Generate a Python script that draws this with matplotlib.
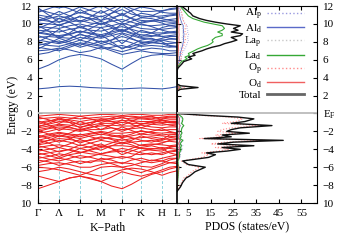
"""
Band structure + projected DOS (Al / La / O) on a shared energy axis.
"""

import matplotlib
matplotlib.use("Agg")
import matplotlib.pyplot as plt

plt.rcParams["font.family"] = ["Liberation Serif", "DejaVu Serif"]
plt.rcParams["mathtext.fontset"] = "custom"
plt.rcParams["mathtext.rm"] = "Liberation Serif"
plt.rcParams["mathtext.it"] = "Liberation Serif:italic"

# ---- k-path ----
K_LABELS = ["Γ", "Λ", "L", "M", "Γ", "K", "H", "L"]
K_TICKS = [0, 21, 42, 63, 84, 103, 124, 139]
K_POINTS = [0, 10.5, 21, 31.5, 42, 52.5, 63, 73.5, 84, 93.5, 103, 113.5, 124, 131.5, 139]

# ---- valence bands (eV), one row per band, sampled at K_POINTS ----
VALENCE = [
    [-8.4, -8.0, -7.6, -7.2, -7.0, -7.3, -7.6, -8.1, -8.4, -7.9, -7.3, -6.8, -6.5, -6.2, -6.0],
    [-7.0, -7.3, -7.6, -7.2, -7.0, -7.2, -7.6, -7.1, -6.5, -6.8, -7.0, -6.7, -6.3, -6.0, -5.9],
    [-6.0, -6.1, -6.3, -6.6, -6.9, -6.5, -6.0, -5.9, -6.0, -6.3, -6.6, -6.2, -5.8, -5.5, -5.4],
    [-5.8, -5.6, -5.5, -5.7, -6.0, -6.0, -5.7, -5.5, -5.5, -5.6, -5.9, -6.0, -5.6, -5.2, -5.0],
    [-5.2, -5.4, -5.8, -5.5, -5.3, -5.5, -5.0, -5.2, -5.6, -5.2, -5.0, -5.3, -5.0, -4.8, -4.6],
    [-5.0, -4.8, -4.5, -4.7, -5.0, -4.8, -4.5, -4.3, -4.2, -4.5, -4.6, -4.4, -4.6, -4.3, -4.2],
    [-4.6, -4.4, -4.2, -4.0, -4.3, -4.5, -4.6, -4.8, -5.0, -4.8, -4.2, -4.0, -3.8, -3.9, -4.0],
    [-4.2, -4.0, -3.8, -4.1, -4.4, -4.1, -3.8, -3.6, -3.6, -3.7, -3.9, -4.1, -4.2, -3.8, -3.6],
    [-3.8, -3.6, -3.5, -3.7, -3.9, -3.7, -3.4, -3.9, -4.3, -3.9, -3.5, -3.4, -3.5, -3.6, -3.5],
    [-3.5, -3.3, -3.0, -3.2, -3.6, -3.3, -3.0, -3.2, -3.4, -3.2, -3.1, -3.0, -3.2, -3.1, -3.2],
    [-3.2, -3.0, -2.8, -2.9, -3.1, -3.0, -2.7, -2.8, -3.0, -2.8, -2.7, -2.6, -2.8, -2.9, -2.8],
    [-3.0, -2.7, -2.4, -2.6, -2.8, -2.5, -2.3, -2.5, -2.7, -2.5, -2.3, -2.4, -2.5, -2.6, -2.5],
    [-2.6, -2.3, -2.1, -2.3, -2.4, -2.2, -2.0, -2.2, -2.2, -2.1, -2.0, -2.1, -2.2, -2.1, -2.2],
    [-2.2, -2.0, -1.7, -1.8, -2.0, -1.8, -1.8, -1.6, -1.8, -1.7, -1.6, -1.8, -1.9, -1.8, -1.8],
    [-2.0, -1.7, -1.5, -1.6, -1.8, -1.5, -1.4, -1.3, -1.4, -1.4, -1.3, -1.5, -1.6, -1.5, -1.5],
    [-1.6, -1.4, -1.2, -1.3, -1.5, -1.3, -1.1, -1.1, -1.0, -1.1, -1.1, -1.2, -1.3, -1.2, -1.2],
    [-1.4, -1.2, -0.9, -1.0, -1.2, -1.0, -0.8, -0.9, -0.8, -0.8, -0.9, -0.9, -1.0, -1.0, -1.0],
    [-1.0, -0.8, -0.7, -0.7, -0.9, -0.7, -0.6, -0.6, -0.5, -0.6, -0.6, -0.7, -0.8, -0.7, -0.7],
    [-0.6, -0.5, -0.4, -0.5, -0.6, -0.5, -0.4, -0.3, -0.3, -0.3, -0.4, -0.4, -0.5, -0.4, -0.4],
    [-0.3, -0.2, -0.1, -0.2, -0.3, -0.2, -0.1, -0.1, 0.0, -0.1, -0.1, -0.2, -0.2, -0.1, -0.1],
    [-1.9, -2.3, -2.6, -2.2, -1.7, -2.0, -2.4, -2.0, -1.5, -1.9, -2.3, -2.0, -1.7, -2.0, -2.2],
    [-0.8, -1.3, -1.9, -1.4, -0.9, -1.3, -1.8, -1.3, -0.7, -1.2, -1.6, -1.2, -0.8, -1.0, -1.1],
    [-2.9, -3.3, -3.8, -3.4, -2.9, -3.3, -3.7, -3.3, -2.8, -3.2, -3.6, -3.5, -3.3, -3.0, -2.9],
    [-4.0, -4.3, -4.8, -4.4, -3.9, -4.2, -4.5, -4.2, -3.9, -4.1, -4.4, -4.6, -4.4, -4.2, -4.1],
    [-5.5, -5.2, -5.0, -5.2, -5.6, -5.3, -5.3, -5.6, -6.0, -5.8, -5.5, -5.2, -5.3, -5.5, -5.6],
    [-1.2, -0.9, -0.5, -0.8, -1.3, -1.0, -0.8, -0.5, -0.2, -0.4, -0.5, -0.6, -0.4, -0.3, -0.3],
    [-3.4, -3.0, -2.5, -2.7, -3.3, -2.9, -2.6, -2.9, -3.3, -3.0, -2.5, -2.8, -3.0, -2.7, -2.6],
    [-4.4, -4.7, -5.0, -4.6, -4.4, -4.0, -3.6, -3.9, -4.6, -4.2, -3.8, -3.6, -3.9, -4.4, -4.6],
    [-0.4, -0.7, -1.1, -0.6, -0.3, -0.6, -1.0, -0.7, -0.4, -0.8, -1.2, -0.9, -0.6, -0.5, -0.5],
    [-1.5, -1.1, -0.6, -1.0, -1.6, -1.2, -0.6, -0.9, -1.3, -0.9, -0.4, -0.3, -0.7, -0.9, -0.9],
    [-2.4, -2.8, -3.2, -2.8, -2.3, -2.6, -2.9, -2.6, -2.4, -2.7, -3.0, -3.2, -2.9, -2.4, -2.3],
    [-3.6, -3.9, -4.3, -4.0, -3.5, -3.8, -4.1, -3.6, -3.2, -3.5, -3.9, -3.9, -4.0, -3.7, -3.7],
    [-4.8, -5.1, -5.3, -5.0, -4.7, -4.9, -5.2, -5.0, -4.8, -5.0, -5.3, -5.5, -5.3, -5.0, -5.0],
    [-6.5, -6.3, -6.0, -6.2, -6.5, -6.8, -7.0, -6.6, -6.3, -6.1, -6.2, -6.5, -6.9, -6.6, -6.4],
    [-1.8, -1.6, -1.3, -1.5, -1.9, -1.6, -1.2, -1.6, -2.0, -1.6, -1.2, -1.0, -1.1, -1.3, -1.4],
    [-2.7, -2.5, -2.2, -2.4, -2.6, -2.3, -2.1, -2.4, -2.6, -2.3, -1.9, -2.2, -2.4, -2.3, -2.3],
]

# ---- conduction bands (eV) ----
CONDUCTION = [
    [2.75, 2.85, 3.0, 3.05, 3.0, 2.9, 2.85, 2.8, 2.75, 2.8, 2.85, 2.8, 2.75, 2.85, 3.0],
    [4.95, 5.4, 6.0, 6.4, 6.6, 6.4, 6.1, 5.5, 4.95, 5.6, 6.2, 6.5, 6.6, 6.5, 6.5],
    [7.0, 7.1, 7.3, 7.1, 6.8, 7.0, 7.4, 7.0, 6.6, 6.8, 7.0, 6.8, 6.7, 6.7, 6.8],
    [7.4, 7.2, 7.0, 7.4, 7.8, 7.5, 7.2, 7.4, 7.6, 7.3, 7.1, 7.3, 7.2, 7.0, 7.0],
    [7.8, 7.6, 7.5, 7.8, 8.2, 7.9, 7.6, 7.9, 8.2, 7.9, 7.5, 7.6, 7.5, 7.4, 7.5],
    [8.2, 8.0, 7.8, 8.1, 8.5, 8.3, 8.0, 8.2, 8.6, 8.3, 8.0, 7.9, 7.8, 7.8, 7.9],
    [8.5, 8.6, 8.5, 8.4, 8.8, 8.6, 8.4, 8.7, 9.0, 8.7, 8.4, 8.3, 8.2, 8.3, 8.3],
    [9.0, 8.8, 8.7, 8.9, 9.2, 9.0, 8.8, 9.1, 9.4, 9.0, 8.8, 8.7, 8.6, 8.7, 8.8],
    [9.3, 9.2, 9.1, 9.4, 9.6, 9.3, 9.2, 9.5, 9.7, 9.4, 9.1, 9.0, 9.0, 9.1, 9.2],
    [9.7, 9.6, 9.5, 9.8, 10.0, 9.7, 9.6, 9.8, 10.1, 9.8, 9.5, 9.4, 9.4, 9.5, 9.6],
    [10.1, 10.0, 9.9, 10.2, 10.4, 10.1, 10.0, 10.3, 10.5, 10.2, 9.9, 9.8, 9.9, 10.0, 10.1],
    [10.5, 10.3, 10.2, 10.5, 10.8, 10.6, 10.4, 10.7, 11.0, 10.6, 10.4, 10.3, 10.4, 10.5, 10.6],
    [11.0, 10.8, 10.6, 10.9, 11.3, 11.0, 10.8, 11.2, 11.6, 11.1, 10.9, 10.8, 10.9, 11.0, 11.1],
    [11.6, 11.3, 11.0, 11.4, 11.9, 11.5, 11.2, 11.7, 12.2, 11.7, 11.4, 11.4, 11.5, 11.6, 11.7],
    [8.0, 8.6, 9.4, 8.8, 8.2, 8.8, 9.6, 8.8, 7.8, 8.6, 9.3, 9.0, 8.6, 8.4, 8.3],
    [9.8, 9.2, 8.4, 9.0, 9.8, 9.2, 8.5, 9.2, 10.0, 9.3, 8.6, 9.0, 9.6, 9.8, 9.9],
    [10.4, 10.8, 11.4, 10.9, 10.3, 10.8, 11.5, 10.8, 10.2, 10.7, 11.2, 11.0, 10.6, 10.4, 10.3],
    [11.8, 11.0, 10.2, 10.8, 11.6, 11.0, 10.4, 11.2, 12.0, 11.4, 10.7, 10.9, 11.4, 11.7, 11.8],
    [7.2, 7.8, 8.4, 8.0, 7.6, 8.2, 8.8, 8.0, 7.2, 7.7, 8.2, 8.4, 8.0, 7.6, 7.5],
    [12.2, 12.0, 11.8, 12.0, 12.3, 12.0, 11.9, 12.1, 12.4, 12.1, 11.9, 12.0, 12.2, 12.1, 12.0],
    [9.5, 10.0, 10.6, 10.2, 9.6, 9.9, 10.3, 9.8, 9.2, 9.7, 10.2, 10.4, 10.1, 9.8, 9.7],
    [8.7, 8.3, 7.9, 8.3, 8.9, 8.4, 7.8, 8.2, 8.9, 8.4, 7.9, 8.1, 8.4, 8.6, 8.6],
    [6.6, 6.8, 7.2, 7.6, 7.9, 7.7, 7.5, 7.2, 6.9, 7.2, 7.6, 7.9, 8.2, 8.0, 7.9],
    [8.9, 9.4, 9.9, 9.5, 9.0, 9.5, 10.1, 9.6, 9.1, 9.6, 10.0, 9.7, 9.3, 9.1, 9.0],
    [10.8, 10.4, 9.8, 10.3, 10.9, 10.5, 9.9, 10.5, 11.2, 10.6, 10.1, 10.3, 10.7, 10.9, 11.0],
    [7.6, 7.9, 8.1, 7.8, 7.4, 7.7, 8.1, 7.7, 7.3, 7.5, 7.8, 8.0, 7.8, 7.5, 7.4],
    [9.1, 8.9, 8.6, 8.8, 9.2, 8.9, 8.6, 8.9, 9.3, 8.9, 8.5, 8.6, 8.9, 9.0, 9.0],
    [10.3, 10.6, 10.9, 10.6, 10.2, 10.5, 10.9, 10.4, 9.9, 10.3, 10.7, 10.6, 10.3, 10.2, 10.2],
    [11.3, 11.7, 12.1, 11.7, 11.2, 11.6, 12.1, 11.5, 11.0, 11.5, 11.9, 11.7, 11.3, 11.2, 11.2],
]

# ---- PDOS (states/eV) on a common energy grid ----
E_DOS = [-8.7, -8.2, -7.7, -7.2, -7.0, -6.5, -6.0, -5.7, -5.3, -4.9,
         -4.6, -4.4, -4.2, -4.0, -3.8, -3.6, -3.4, -3.2, -3.0, -2.8,
         -2.6, -2.4, -2.2, -2.0, -1.8, -1.6, -1.35, -1.1, -0.9, -0.6,
         -0.4, -0.2, 0.0, 0.1,
         2.5, 2.7, 2.9, 3.1, 3.3,
         4.8, 5.1, 5.5, 5.8, 6.1, 6.3, 6.5, 6.7, 7.0, 7.2,
         7.4, 7.6, 7.8, 8.0, 8.2, 8.5, 8.7, 8.9, 9.1, 9.3,
         9.5, 9.8, 10.0, 10.2, 10.4, 10.6, 10.9, 11.2, 11.5, 11.8,
         12.0]
TOTAL = [0, 1.5, 2.5, 4, 5.5, 8, 12.5, 5, 2.5, 14,
         17, 13, 22, 28, 20, 34, 18, 25, 47, 12,
         24, 20, 32, 22, 24, 28, 42, 24, 30, 34,
         27, 12, 0, 0,
         0, 1.5, 9.3, 1.5, 0,
         0, 0.5, 2, 3, 6.5, 5, 8, 7, 11, 13,
         15.5, 19, 21, 24, 26.5, 24, 28, 29, 24, 27,
         25, 28, 22, 17, 13, 10, 7, 6, 4.5, 3,
         2]
O_P = [0, 1, 2, 3, 4.5, 6.5, 10, 4, 2, 11,
       14, 11, 18, 23, 17, 28, 15, 21, 39, 10,
       20, 17, 27, 18, 20, 24, 36, 20, 26, 29,
       23, 10, 0, 0,
       0, 1, 3.5, 1, 0,
       0, 0.3, 0.8, 1.2, 1.8, 1.5, 2, 1.8, 2.2, 2.5,
       2.6, 3, 3.2, 3.5, 3.8, 3.4, 3.8, 4, 3.5, 3.8,
       3.6, 4, 3.4, 3, 2.8, 2.6, 2.4, 2.2, 1.8, 1.4,
       1.2]
LA_D = [0, 0.2, 0.3, 0.4, 0.5, 0.6, 0.8, 0.5, 0.4, 1.0,
        1.2, 1.0, 1.5, 1.8, 1.5, 2.0, 1.4, 1.8, 2.6, 1.2,
        1.8, 1.6, 2.2, 1.8, 2.0, 2.2, 3.0, 2.0, 2.4, 2.6,
        2.2, 1.2, 0, 0,
        0, 0.3, 1.5, 0.3, 0,
        0, 0.2, 1.0, 2.0, 4.5, 3.5, 5.5, 5, 7.5, 9,
        11, 13.5, 15, 16, 15.5, 17, 20, 20, 18, 20,
        21, 20, 16, 12, 9.5, 7, 5, 4, 3, 2,
        1.5]
AL_P = [0, 0.2, 0.3, 0.5, 0.6, 0.8, 1.2, 0.6, 0.4, 1.4,
        1.6, 1.3, 2.0, 2.4, 1.8, 2.6, 1.6, 2.0, 3.0, 1.2,
        2.0, 1.7, 2.4, 1.9, 2.0, 2.2, 2.8, 1.8, 2.0, 2.2,
        1.6, 0.8, 0, 0,
        0, 0.4, 2.0, 0.4, 0,
        0, 0.3, 0.8, 1.2, 2.0, 1.7, 2.4, 2.2, 3.0, 3.4,
        3.8, 4.2, 4.5, 4.8, 5.0, 4.6, 5.0, 5.2, 4.6, 4.8,
        4.4, 4.6, 3.8, 3.2, 2.8, 2.4, 2.0, 1.8, 1.5, 1.2,
        1.0]
AL_D = [0, 0.1, 0.2, 0.3, 0.3, 0.4, 0.6, 0.3, 0.2, 0.7,
        0.8, 0.6, 1.0, 1.2, 0.9, 1.3, 0.8, 1.0, 1.5, 0.6,
        1.0, 0.8, 1.2, 1.0, 1.0, 1.1, 1.4, 0.9, 1.0, 1.1,
        0.8, 0.4, 0, 0,
        0, 0.2, 0.8, 0.2, 0,
        0, 0.2, 0.5, 0.8, 1.2, 1.0, 1.5, 1.4, 1.8, 2.0,
        2.2, 2.5, 2.6, 2.8, 3.0, 2.7, 3.0, 3.1, 2.8, 2.9,
        2.7, 2.8, 2.3, 2.0, 1.7, 1.5, 1.2, 1.0, 0.8, 0.7,
        0.6]
LA_P = [0, 0.1, 0.1, 0.2, 0.2, 0.3, 0.4, 0.2, 0.1, 0.5,
        0.6, 0.4, 0.7, 0.8, 0.6, 0.9, 0.6, 0.7, 1.0, 0.4,
        0.7, 0.6, 0.8, 0.7, 0.7, 0.8, 1.0, 0.6, 0.7, 0.8,
        0.6, 0.3, 0, 0,
        0, 0.1, 0.4, 0.1, 0,
        0, 0.1, 0.3, 0.5, 0.8, 0.7, 1.0, 0.9, 1.2, 1.4,
        1.6, 1.8, 2.0, 2.2, 2.4, 2.2, 2.5, 2.6, 2.3, 2.4,
        2.3, 2.4, 2.0, 1.7, 1.5, 1.3, 1.1, 0.9, 0.8, 0.6,
        0.5]
O_D = [0, 0.1, 0.2, 0.3, 0.3, 0.4, 0.6, 0.3, 0.2, 0.6,
       0.7, 0.5, 0.8, 1.0, 0.8, 1.1, 0.7, 0.9, 1.4, 0.5,
       0.8, 0.7, 1.0, 0.8, 0.9, 1.0, 1.3, 0.8, 0.9, 1.0,
       0.8, 0.4, 0, 0,
       0, 0.2, 1.2, 0.2, 0,
       0, 0.1, 0.2, 0.3, 0.4, 0.4, 0.5, 0.5, 0.6, 0.6,
       0.7, 0.7, 0.8, 0.8, 0.9, 0.8, 0.9, 0.9, 0.8, 0.9,
       0.8, 0.9, 0.8, 0.7, 0.6, 0.6, 0.5, 0.5, 0.4, 0.4,
       0.3]

E_TICKS = [-10, -8, -6, -4, -2, 0, 2, 4, 6, 8, 10, 12]
LEFT_LABELS = ["10", "−8", "−6", "−4", "−2", "0", "2", "4", "6", "8", "10", "12"]
RIGHT_LABELS = ["10", "−8", "−6", "−4", "−2", r"E$_\mathrm{F}$", "2", "4", "6", "8", "10", "12"]
DOS_TICKS = [5, 15, 25, 35, 45, 55]

fig = plt.figure(figsize=(3.46, 2.42), dpi=100)
ax1 = fig.add_axes([0.110, 0.161, 0.4017, 0.814])
ax2 = fig.add_axes([0.5116, 0.161, 0.405, 0.814])

# band panel
for kx in K_TICKS[1:-1]:
    ax1.axvline(kx, color="#8fd3df", lw=0.7, ls=(0, (3, 2)), zorder=0.5)
for band in CONDUCTION:
    ax1.plot(K_POINTS, band, color="#3452a8", lw=0.75)
for band in VALENCE:
    ax1.plot(K_POINTS, band, color="#ee2020", lw=0.75)
ax1.axhline(0, color="#bbbbbb", lw=1.3, zorder=3)
ax1.set_xlim(K_TICKS[0], K_TICKS[-1])
ax1.set_ylim(-10, 12)
ax1.set_xticks(K_TICKS)
ax1.set_xticklabels(K_LABELS)
ax1.set_yticks(E_TICKS)
ax1.set_yticklabels(LEFT_LABELS)
ax1.tick_params(direction="in", length=3, labelsize=8, pad=4)
ax1.set_xlabel("K−Path", fontsize=8.5, labelpad=3)
ax1.set_ylabel("Energy (eV)", fontsize=8.5, labelpad=1)

# PDOS panel
ax2.plot(AL_P, E_DOS, color="#9a9ae0", lw=0.6, ls=":", label=r"Al$_\mathrm{p}$")
ax2.plot(AL_D, E_DOS, color="#5a6ac8", lw=0.6, label=r"Al$_\mathrm{d}$")
ax2.plot(LA_P, E_DOS, color="#c8c8c8", lw=0.6, ls=":", label=r"La$_\mathrm{p}$")
ax2.plot(LA_D, E_DOS, color="#35a835", lw=0.8, label=r"La$_\mathrm{d}$")
ax2.plot(O_P, E_DOS, color="#ff8c8c", lw=0.8, ls=":", label=r"O$_\mathrm{p}$")
ax2.plot(O_D, E_DOS, color="#f06060", lw=0.6, label=r"O$_\mathrm{d}$")
ax2.plot(TOTAL, E_DOS, color="#111111", lw=1.0, label="Total")
ax2.axhline(0, color="#bbbbbb", lw=1.3, zorder=3)
ax2.set_xlim(0, 62)
ax2.set_ylim(-10, 12)
ax2.set_xticks(DOS_TICKS)
ax2.set_yticks(E_TICKS)
ax2.set_yticklabels(RIGHT_LABELS)
ax2.yaxis.tick_right()
ax2.tick_params(direction="in", length=3, labelsize=8, pad=4,
                left=True, right=True, top=True)
ax2.set_xlabel("PDOS (states/eV)", fontsize=8.5, labelpad=3)
for sp in ax2.spines.values():
    sp.set_linewidth(0.8)
ax2.spines["left"].set_linewidth(1.2)

leg = ax2.legend(loc="upper right", bbox_to_anchor=(0.905, 0.995), frameon=False,
                 markerfirst=False, fontsize=8, handlelength=3.3,
                 handletextpad=0.5, labelspacing=0.0, borderpad=0, borderaxespad=0)
for line in leg.get_lines():
    line.set_linewidth(1.0)
    if line.get_label() == "Total":
        line.set_color("#666666")
        line.set_linewidth(2.0)

fig.savefig("out.png", dpi=100)
